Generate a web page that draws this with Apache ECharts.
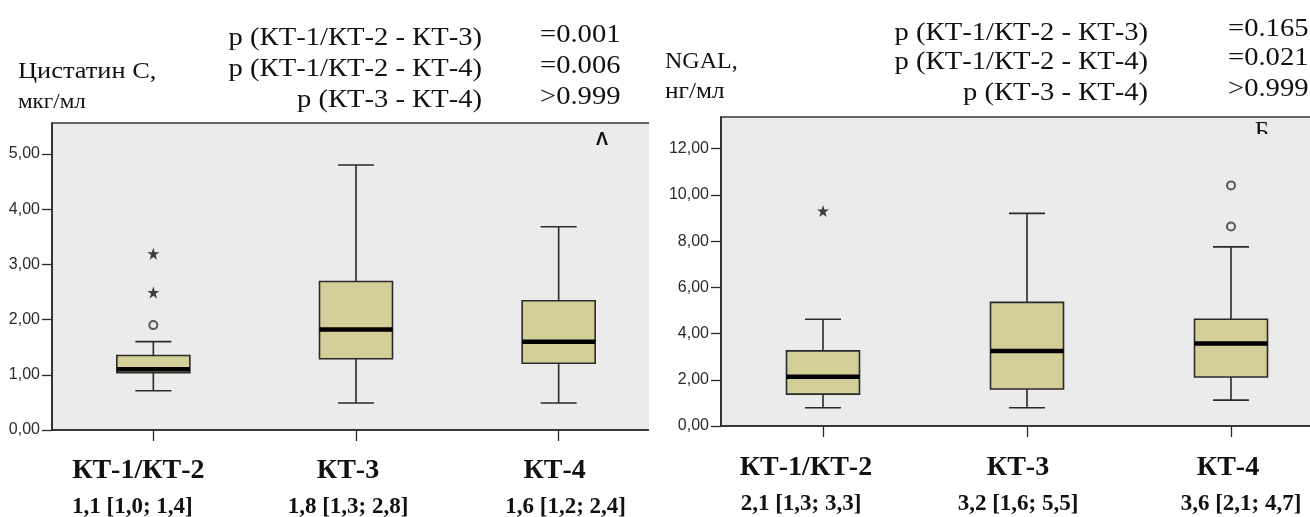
<!DOCTYPE html>
<html>
<head>
<meta charset="utf-8">
<script src="https://cdn.jsdelivr.net/npm/echarts@6/dist/echarts.min.js"></script>
<style>html,body{margin:0;padding:0;background:#fff;}#c{width:1310px;height:517px;}</style>
</head>
<body>
<div id="c"></div>
<script>
// ---------- DATA ----------
const categories = ['КТ-1/КТ-2', 'КТ-3', 'КТ-4'];
const cysStats = ['1,1 [1,0; 1,4]', '1,8 [1,3; 2,8]', '1,6 [1,2; 2,4]'];
const ngalStats = ['2,1 [1,3; 3,3]', '3,2 [1,6; 5,5]', '3,6 [2,1; 4,7]'];
// [category index, lower whisker, Q1, median, Q3, upper whisker]
const cysBoxes = [[0, 0.71, 1.04, 1.10, 1.35, 1.60], [1, 0.49, 1.29, 1.82, 2.69, 4.80], [2, 0.49, 1.21, 1.60, 2.34, 3.68]];
const cysCircles = [[0, 1.90]];
const cysStars = [[0, 2.49], [0, 3.19]];
const ngalBoxes = [[0, 0.79, 1.38, 2.13, 3.25, 4.62], [1, 0.79, 1.60, 3.25, 5.35, 9.20], [2, 1.12, 2.12, 3.57, 4.62, 7.75]];
const ngalCircles = [[2, 8.63], [2, 10.41]];
const ngalStars = [[0, 9.30]];
const cysTicks = [0, 1, 2, 3, 4, 5];
const ngalTicks = [0, 2, 4, 6, 8, 10, 12];
const pComparisons = ['p (КТ-1/КТ-2 - КТ-3)', 'p (КТ-1/КТ-2 - КТ-4)', 'p (КТ-3 - КТ-4)'];
const cysP = ['=0.001', '=0.006', '>0.999'];
const ngalP = ['=0.165', '=0.021', '>0.999'];
const cysTitle = ['Цистатин С,', 'мкг/мл'];
const ngalTitle = ['NGAL,', 'нг/мл'];
const panelLetters = ['Λ', 'Б'];

// ---------- STYLE / LAYOUT ----------
const BG = '#ebebeb', DARK = '#2a2a2a', BOXFILL = '#d4cf98';
const SERIF = '"Liberation Serif","Times New Roman",serif';
const SANS = '"Liberation Sans",Arial,sans-serif';
const shiftsL = {t: [-15, -8, -4], s: [-21, -8, 7]};
const shiftsR = {t: [-17, -9, -3], s: [-22, -9, 10]};

function richFor(sh) {
  const r = {};
  for (let i = 0; i < 3; i++) {
    const pt = sh.t[i] < 0 ? [0, -2 * sh.t[i], 0, 0] : [0, 0, 0, 2 * sh.t[i]];
    const ps = sh.s[i] < 0 ? [0, -2 * sh.s[i], 0, 0] : [0, 0, 0, 2 * sh.s[i]];
    r['t' + i] = {fontFamily: SERIF, fontWeight: 'bold', fontSize: 28, color: '#111', lineHeight: 34, padding: pt};
    r['s' + i] = {fontFamily: SERIF, fontWeight: 'bold', fontSize: 23, color: '#111', lineHeight: 38, padding: ps};
  }
  return r;
}

function renderBox(params, api) {
  const x = api.value(0);
  const lo = api.coord([x, api.value(1)]);
  const q1 = api.coord([x, api.value(2)]);
  const md = api.coord([x, api.value(3)]);
  const q3 = api.coord([x, api.value(4)]);
  const hi = api.coord([x, api.value(5)]);
  const cx = lo[0], bw = 73, cw = 36;
  const ls = {stroke: DARK, lineWidth: 1.6};
  return {
    type: 'group',
    children: [
      {type: 'line', shape: {x1: cx, y1: lo[1], x2: cx, y2: q1[1]}, style: ls},
      {type: 'line', shape: {x1: cx, y1: q3[1], x2: cx, y2: hi[1]}, style: ls},
      {type: 'line', shape: {x1: cx - cw / 2, y1: lo[1], x2: cx + cw / 2, y2: lo[1]}, style: ls},
      {type: 'line', shape: {x1: cx - cw / 2, y1: hi[1], x2: cx + cw / 2, y2: hi[1]}, style: ls},
      {type: 'rect', shape: {x: cx - bw / 2, y: q3[1], width: bw, height: q1[1] - q3[1]}, style: {fill: BOXFILL, stroke: DARK, lineWidth: 1.6}},
      {type: 'line', shape: {x1: cx - bw / 2, y1: md[1], x2: cx + bw / 2, y2: md[1]}, style: {stroke: '#000', lineWidth: 4.5}}
    ]
  };
}

const STAR = 'path://M50,0 L61.8,35.4 L100,35.4 L69.1,57.3 L80.9,95.1 L50,72.6 L19.1,95.1 L30.9,57.3 L0,35.4 L38.2,35.4 Z';

function yAxisCfg(gi, max, interval, ticks) {
  return {
    type: 'value', gridIndex: gi, min: 0, max: max, interval: interval,
    splitLine: {show: false},
    axisLine: {show: true, lineStyle: {color: DARK, width: 1.6}},
    axisTick: {show: true, length: 10, lineStyle: {color: DARK, width: 1.3}, customValues: ticks},
    axisLabel: {margin: 12, fontFamily: SANS, fontSize: 16, color: '#2a2a2a', customValues: ticks,
      formatter: v => v.toFixed(2).replace('.', ',')}
  };
}
function xAxisCfg(gi, stats, shifts, margin) {
  return {
    type: 'category', gridIndex: gi, data: categories, boundaryGap: true,
    axisLine: {show: true, lineStyle: {color: DARK, width: 1.6}},
    axisTick: {show: true, alignWithLabel: true, length: 11, inside: false, lineStyle: {color: DARK, width: 1.3}},
    axisLabel: {margin: margin, interval: 0, hideOverlap: false,
      formatter: (v, i) => '{t' + i + '|' + v + '}\n{s' + i + '|' + stats[i] + '}',
      rich: richFor(shifts)}
  };
}

const textEls = [];
function addText(t, x, y, size, align, sx) {
  textEls.push({type: 'text', z: 100, x: x, y: y, scaleX: sx, style: {text: t, x: 0, y: 0, font: size + 'px ' + SERIF, fill: '#111', textAlign: align, textVerticalAlign: 'middle'}});
}
const lY = [38, 69, 100], rY = [33, 62, 93];
for (let i = 0; i < 3; i++) {
  addText(pComparisons[i], 482, lY[i], 26, 'right', 1.1);
  addText(cysP[i], 540, lY[i] - 3, 26, 'left', 1.1);
  addText(pComparisons[i], 1148, rY[i], 26, 'right', 1.1);
  addText(ngalP[i], 1228, rY[i] - 4, 26, 'left', 1.1);
}
addText(cysTitle[0], 18, 72, 24, 'left', 1.1);
addText(cysTitle[1], 18, 102, 21, 'left', 1.1);
addText(ngalTitle[0], 665, 62, 24, 'left', 1.0);
addText(ngalTitle[1], 665, 92, 23, 'left', 1.1);

const graphics = textEls.concat([
  // crop of the left panel at its right edge
  {type: 'rect', z: 90, shape: {x: 649, y: 112, width: 14, height: 330}, style: {fill: '#fff'}},
  {type: 'text', z: 100, style: {text: panelLetters[0], x: 602, y: 140, font: 'bold 18px ' + SANS, fill: '#111', textAlign: 'center', textVerticalAlign: 'middle'}},
  {type: 'text', z: 100, style: {text: panelLetters[1], x: 1262, y: 132, font: '25px ' + SERIF, fill: '#111', textAlign: 'center', textVerticalAlign: 'middle'}},
  {type: 'rect', z: 101, shape: {x: 1250, y: 134, width: 26, height: 16}, style: {fill: BG}}
]);

const chart = echarts.init(document.getElementById('c'), null, {renderer: 'canvas'});
chart.setOption({
  animation: false,
  backgroundColor: '#fff',
  grid: [
    {left: 52, top: 123, width: 608, height: 307, outerBoundsMode: 'none', containLabel: false, show: true, backgroundColor: BG, borderColor: '#3a3a3a', borderWidth: 1.6},
    {left: 721, top: 117, width: 612, height: 309, outerBoundsMode: 'none', containLabel: false, show: true, backgroundColor: BG, borderColor: '#3a3a3a', borderWidth: 1.6}
  ],
  xAxis: [xAxisCfg(0, cysStats, shiftsL, 24), xAxisCfg(1, ngalStats, shiftsR, 25)],
  yAxis: [yAxisCfg(0, 5.56, 1, cysTicks), yAxisCfg(1, 13.37, 2, ngalTicks)],
  series: [
    {type: 'custom', xAxisIndex: 0, yAxisIndex: 0, renderItem: renderBox, data: cysBoxes, encode: {x: 0, y: [1, 2, 3, 4, 5]}},
    {type: 'custom', xAxisIndex: 1, yAxisIndex: 1, renderItem: renderBox, data: ngalBoxes, encode: {x: 0, y: [1, 2, 3, 4, 5]}},
    {type: 'scatter', xAxisIndex: 0, yAxisIndex: 0, data: cysCircles, symbol: 'circle', symbolSize: 8, itemStyle: {color: BG, borderColor: '#333', borderWidth: 2}},
    {type: 'scatter', xAxisIndex: 1, yAxisIndex: 1, data: ngalCircles, symbol: 'circle', symbolSize: 8, itemStyle: {color: BG, borderColor: '#333', borderWidth: 2}},
    {type: 'scatter', xAxisIndex: 0, yAxisIndex: 0, data: cysStars, symbol: STAR, symbolSize: 12, itemStyle: {color: '#111'}},
    {type: 'scatter', xAxisIndex: 1, yAxisIndex: 1, data: ngalStars, symbol: STAR, symbolSize: 12, itemStyle: {color: '#111'}}
  ],
  graphic: graphics
});
</script>
</body>
</html>
